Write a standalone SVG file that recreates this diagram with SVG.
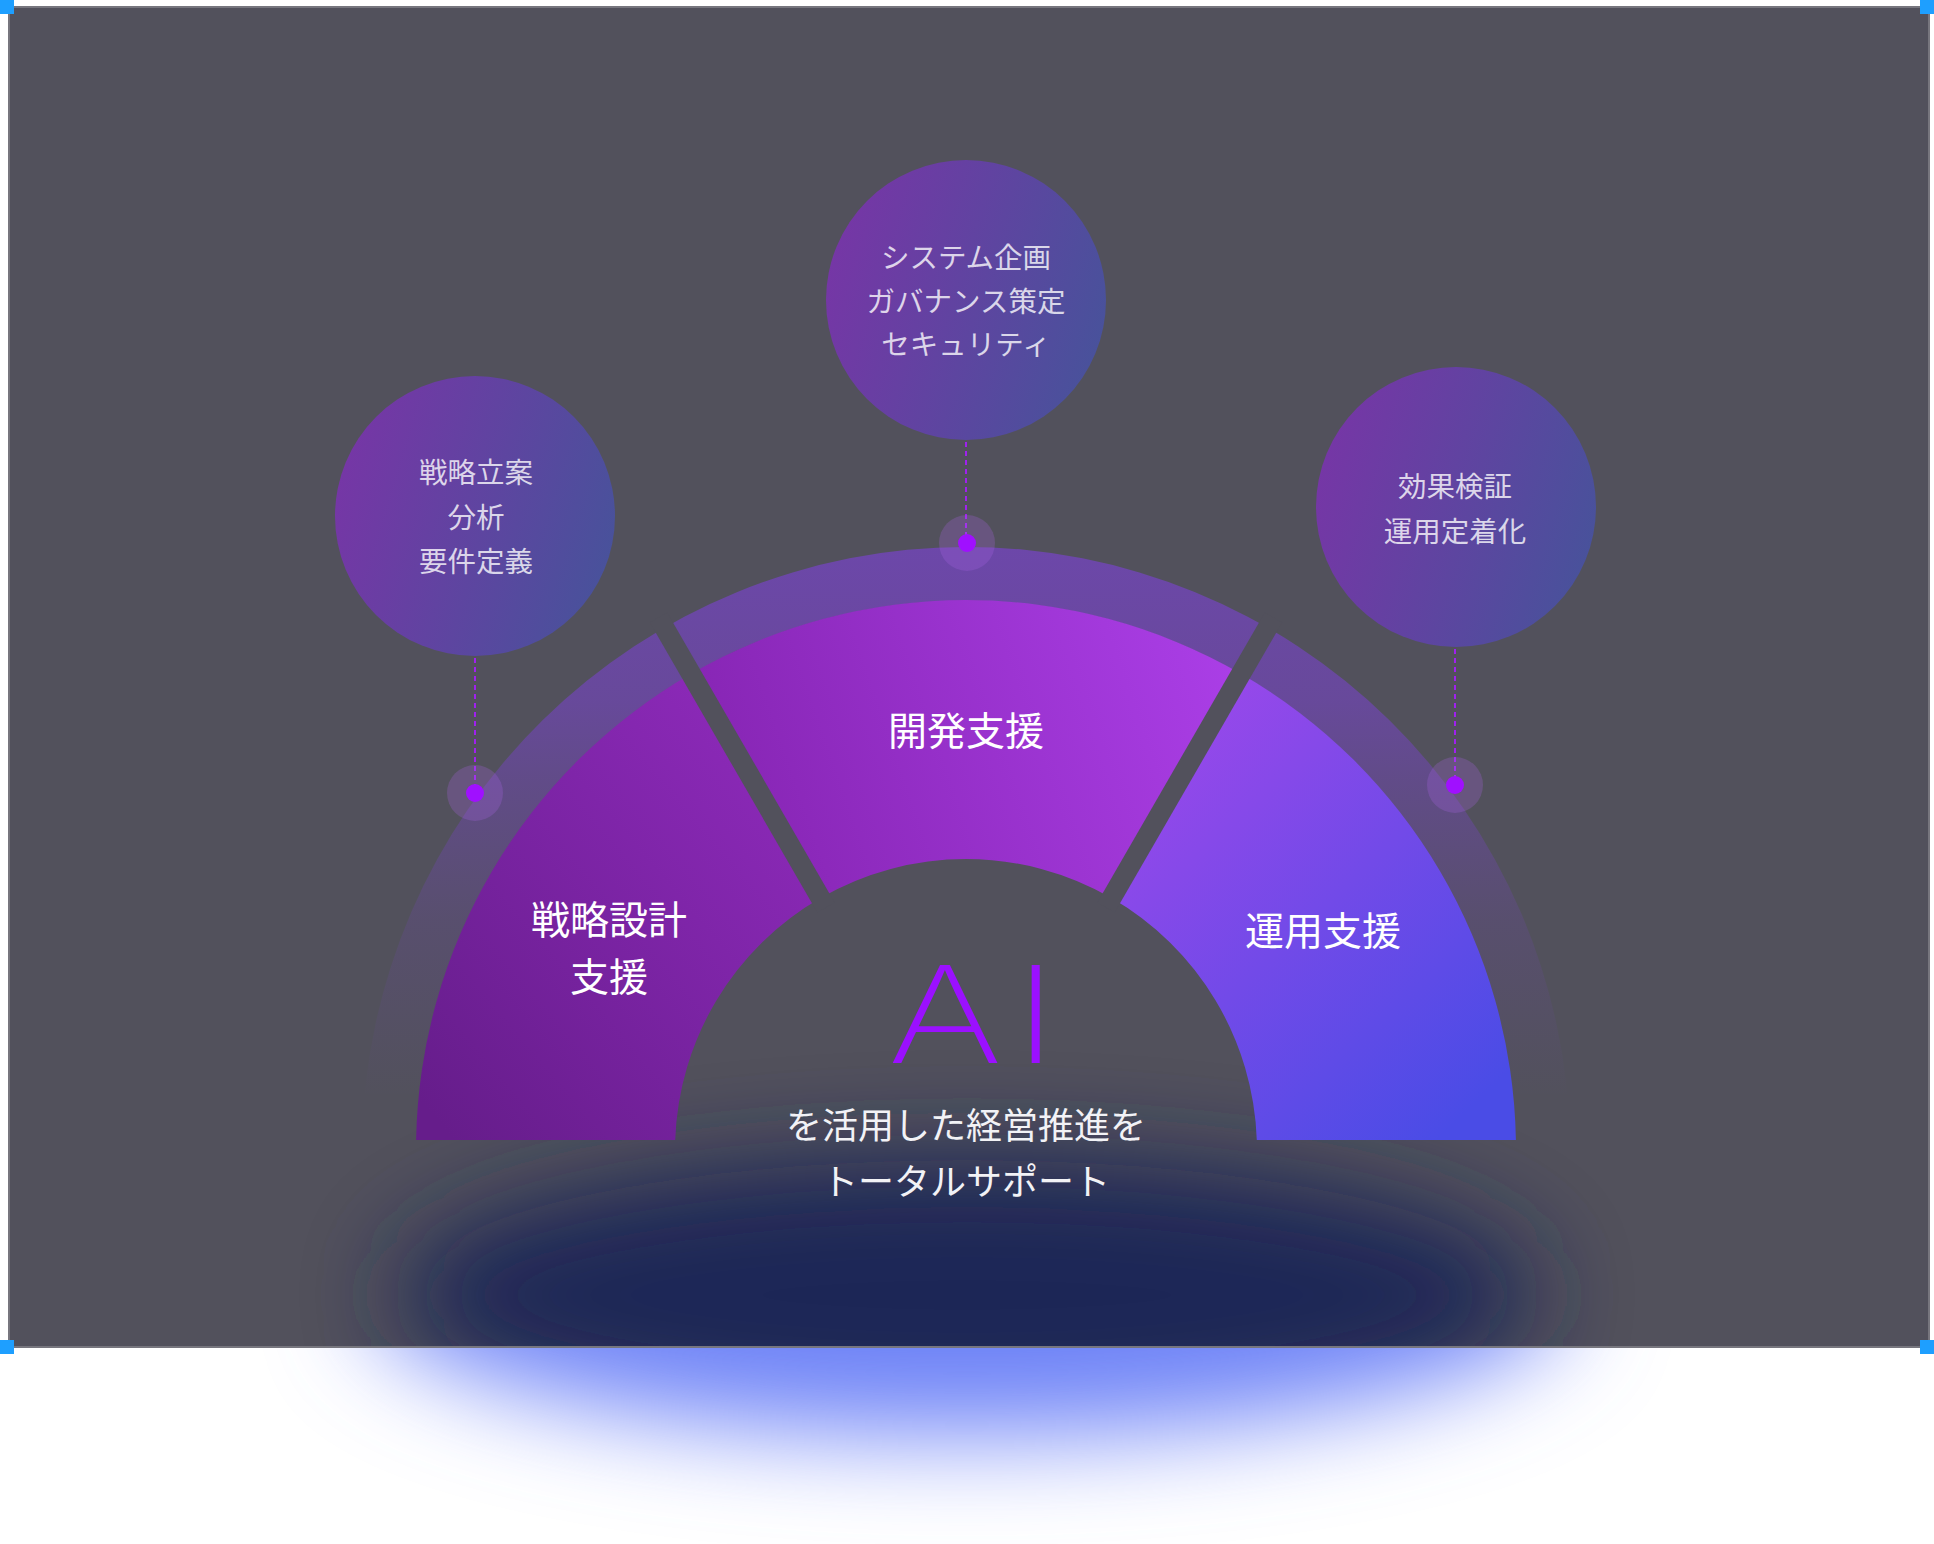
<svg xmlns="http://www.w3.org/2000/svg" width="1934" height="1544" viewBox="0 0 1934 1544">
  <defs>
    <style>
      .jp { font-family: 'Noto Sans CJK JP', 'Noto Sans', sans-serif; text-anchor: middle; dominant-baseline: central; }
      .ctext { font-size: 28.5px; fill: #ffffff; fill-opacity: 0.78; }
      .seg { font-size: 39px; fill: #ffffff; font-weight: 400; }
      .sub { font-size: 36px; fill: #f2f2f6; }
      .dash { stroke: #a020f0; stroke-width: 2; stroke-dasharray: 5 4; fill: none; }
      .halo { fill: #aa64e6; fill-opacity: 0.25; }
      .dot { fill: #a010ff; }
      .gap { stroke: #52515c; stroke-width: 20; stroke-linecap: butt; }
      .corner { fill: #1e9fff; }
    </style>
    <linearGradient id="gCircle" x1="0" y1="0.35" x2="1" y2="0.65">
      <stop offset="0" stop-color="#7636a6"/>
      <stop offset="1" stop-color="#48529b"/>
    </linearGradient>
    <linearGradient id="gLeft" gradientUnits="userSpaceOnUse" x1="420" y1="1100" x2="820" y2="760">
      <stop offset="0" stop-color="#661d8b"/>
      <stop offset="1" stop-color="#8e2abb"/>
    </linearGradient>
    <linearGradient id="gMid" gradientUnits="userSpaceOnUse" x1="700" y1="820" x2="1220" y2="640">
      <stop offset="0" stop-color="#8524b1"/>
      <stop offset="1" stop-color="#aa3ee6"/>
    </linearGradient>
    <linearGradient id="gRight" gradientUnits="userSpaceOnUse" x1="1160" y1="720" x2="1500" y2="1080">
      <stop offset="0" stop-color="#9a48ea"/>
      <stop offset="1" stop-color="#4a4ce6"/>
    </linearGradient>
    <linearGradient id="gRing" gradientUnits="userSpaceOnUse" x1="0" y1="546" x2="0" y2="1140">
      <stop offset="0" stop-color="#853ef1" stop-opacity="0.52"/>
      <stop offset="0.26" stop-color="#853ef1" stop-opacity="0.42"/>
      <stop offset="0.39" stop-color="#853ef1" stop-opacity="0.3"/>
      <stop offset="0.63" stop-color="#853ef1" stop-opacity="0.12"/>
      <stop offset="0.93" stop-color="#853ef1" stop-opacity="0"/>
    </linearGradient>
    <filter id="blurGlow" x="-50%" y="-100%" width="200%" height="300%">
      <feGaussianBlur stdDeviation="50"/>
    </filter>
    <clipPath id="frameClip">
      <rect x="10" y="8" width="1918" height="1338"/>
    </clipPath>
  </defs>

  <rect x="0" y="0" width="1934" height="1544" fill="#ffffff"/>

  <!-- outer glow below frame -->
  <ellipse cx="967" cy="1290" rx="600" ry="145" fill="#6e83f7" filter="url(#blurGlow)"/>

  <!-- frame -->
  <rect x="9" y="7" width="1920" height="1340" fill="#52515c" stroke="#77767e" stroke-width="2"/>

  <!-- inner dark glow -->
  <g clip-path="url(#frameClip)">
    <ellipse cx="967" cy="1295" rx="570" ry="135" fill="#1f2756" filter="url(#blurGlow)"/>
  </g>

  <!-- outer ring -->
  <path id="ring" d="M 362.1 1140 A 604 604 0 0 1 1569.9 1140 L 1515.9 1140 A 550 550 0 0 0 416.1 1140 Z" fill="url(#gRing)"/>

  <!-- segments -->
  <g id="seg-strategy">
    <path d="M 416.1 1140 A 550 550 0 0 1 691 673.7 L 820.5 898 A 291 291 0 0 0 675.2 1140 Z" fill="url(#gLeft)"/>
    <text class="jp seg" x="609" y="917">戦略設計</text>
    <text class="jp seg" x="609" y="974">支援</text>
  </g>
  <g id="seg-dev">
    <path d="M 691 673.7 A 550 550 0 0 1 1241 673.7 L 1111.5 898 A 291 291 0 0 0 820.5 898 Z" fill="url(#gMid)"/>
    <text class="jp seg" x="966" y="728">開発支援</text>
  </g>
  <g id="seg-ops">
    <path d="M 1241 673.7 A 550 550 0 0 1 1515.9 1140 L 1256.8 1140 A 291 291 0 0 0 1111.5 898 Z" fill="url(#gRight)"/>
    <text class="jp seg" x="1323" y="928">運用支援</text>
  </g>

  <!-- gaps -->
  <g id="gaps">
    <line class="gap" x1="826" y1="907.5" x2="658.5" y2="617.4"/>
    <line class="gap" x1="1106" y1="907.5" x2="1273.5" y2="617.4"/>
  </g>

  <!-- center -->
  <g id="center">
    <g transform="translate(978,1063) scale(1.3,1)">
      <text x="0" y="0" font-family="Inter, 'Liberation Sans', sans-serif" font-weight="200" font-size="135" letter-spacing="8" fill="#9b10ff" text-anchor="middle">AI</text>
    </g>
    <text class="jp sub" x="966" y="1123">を活用した経営推進を</text>
    <text class="jp sub" x="966" y="1179">トータルサポート</text>
  </g>

  <!-- connectors -->
  <g id="connectors">
    <line class="dash" x1="966" y1="442" x2="966" y2="543"/>
    <line class="dash" x1="475" y1="658" x2="475" y2="793"/>
    <line class="dash" x1="1455" y1="649" x2="1455" y2="785"/>
    <circle class="halo" cx="967" cy="543" r="28"/>
    <circle class="dot" cx="967" cy="543" r="9"/>
    <circle class="halo" cx="475" cy="793" r="28"/>
    <circle class="dot" cx="475" cy="793" r="9"/>
    <circle class="halo" cx="1455" cy="785" r="28"/>
    <circle class="dot" cx="1455" cy="785" r="9"/>
  </g>

  <!-- bubbles -->
  <g id="bubble-strategy">
    <circle cx="475" cy="516" r="140" fill="url(#gCircle)"/>
    <text class="jp ctext" x="476" y="470">戦略立案</text>
    <text class="jp ctext" x="476" y="515">分析</text>
    <text class="jp ctext" x="476" y="559">要件定義</text>
  </g>
  <g id="bubble-dev">
    <circle cx="966" cy="300" r="140" fill="url(#gCircle)"/>
    <text class="jp ctext" x="966" y="255">システム企画</text>
    <text class="jp ctext" x="966" y="299">ガバナンス策定</text>
    <text class="jp ctext" x="966" y="342">セキュリティ</text>
  </g>
  <g id="bubble-ops">
    <circle cx="1456" cy="507" r="140" fill="url(#gCircle)"/>
    <text class="jp ctext" x="1455" y="484">効果検証</text>
    <text class="jp ctext" x="1455" y="529">運用定着化</text>
  </g>

  <!-- corner handles -->
  <rect class="corner" x="0" y="0" width="14" height="14"/>
  <rect class="corner" x="1920" y="0" width="14" height="14"/>
  <rect class="corner" x="0" y="1340" width="14" height="14"/>
  <rect class="corner" x="1920" y="1340" width="14" height="14"/>
</svg>
